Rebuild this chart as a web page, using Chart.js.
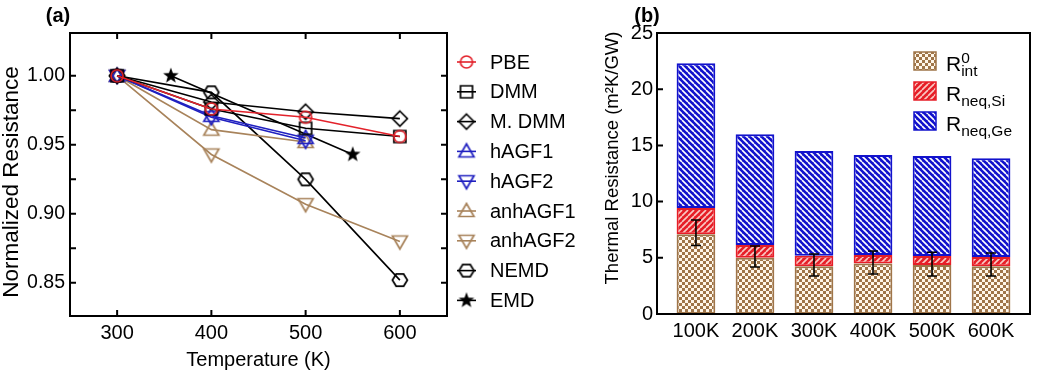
<!DOCTYPE html>
<html>
<head>
<meta charset="utf-8">
<script src="https://cdn.jsdelivr.net/npm/chart.js@4.4.1/dist/chart.umd.min.js"></script>
<style>
  body { margin: 0; background: #fff; }
  #wrap { position: relative; width: 1039px; height: 373px; }
  #chartA { position: absolute; left: 0; top: 0; }
  #chartB { position: absolute; left: 580px; top: 0; }
</style>
</head>
<body>
<div id="wrap">
  <canvas id="chartA" width="580" height="373"></canvas>
  <canvas id="chartB" width="459" height="373"></canvas>
</div>
<script>
// panel (a) data
const temps = [300, 400, 500, 600]
const pbe = [1.000, 0.976, 0.970, 0.956]
const dmm = [1.000, 0.976, 0.962, 0.956]
const mDmm = [1.000, 0.981, 0.974, 0.969]
const hAgf1 = [1.000, 0.971, 0.955, null]
const hAgf2 = [1.000, 0.970, 0.953, null]
const anhAgf1 = [1.000, 0.961, 0.952, null]
const anhAgf2 = [1.000, 0.943, 0.907, 0.880]
const nemd = [1.000, 0.988, 0.925, 0.852]
const emdTemps = [357, 550]
const emd = [1.000, 0.943]
const xTicksA = [300, 400, 500, 600]
const yTicksA = [0.85, 0.90, 0.95, 1.00]
const yMinorA = [0.875, 0.925, 0.975]

// panel (b) data
const tempLabels = ['100K', '200K', '300K', '400K', '500K', '600K']
const rInt = [7.10, 5.00, 4.25, 4.50, 4.35, 4.25]
const rNeqSi = [2.33, 1.14, 0.94, 0.75, 0.81, 0.82]
const rNeqGe = [12.87, 9.86, 9.31, 8.90, 8.89, 8.78]
const errLow = [6.10, 4.18, 3.38, 3.56, 3.38, 3.38]
const errHigh = [8.36, 6.05, 5.34, 5.60, 5.50, 5.43]
const yTicksB = [0, 5, 10, 15, 20, 25]

const FONT = 'Liberation Sans, Arial, sans-serif'
Chart.defaults.font.family = FONT
Chart.defaults.color = '#000'

const RED = '#e3222b'
const BLUE = '#2020c0'
const BROWN = '#a8835b'

function marker(shape, color) {
  const c = document.createElement('canvas')
  c.width = 20
  c.height = 20
  const g = c.getContext('2d')
  g.translate(10, 10)
  g.strokeStyle = color
  g.fillStyle = color
  g.lineWidth = 1.7
  g.beginPath()
  if (shape === 'circle') g.arc(0, 0, 6, 0, Math.PI * 2)
  else if (shape === 'square') g.rect(-6, -6, 12, 12)
  else if (shape === 'diamond') { g.moveTo(0, -7.5); g.lineTo(7.5, 0); g.lineTo(0, 7.5); g.lineTo(-7.5, 0); g.closePath() }
  else if (shape === 'up') { g.moveTo(0, -7.5); g.lineTo(7.5, 5.5); g.lineTo(-7.5, 5.5); g.closePath() }
  else if (shape === 'down') { g.moveTo(0, 7.5); g.lineTo(7.5, -5.5); g.lineTo(-7.5, -5.5); g.closePath() }
  else if (shape === 'hexagon') {
    for (let i = 0; i < 6; i++) {
      const a = i * Math.PI / 3
      g.lineTo(7.5 * Math.cos(a), 7 * Math.sin(a))
    }
    g.closePath()
  } else if (shape === 'star') {
    for (let i = 0; i < 10; i++) {
      const r = i % 2 ? 3.4 : 8.2
      const a = -Math.PI / 2 + i * Math.PI / 5
      g.lineTo(r * Math.cos(a), r * Math.sin(a))
    }
    g.closePath()
    g.fill()
    return c
  }
  g.stroke()
  return c
}

function series(label, xs, ys, color, shape) {
  return {
    label: label,
    data: xs.map((t, i) => ({ x: t, y: ys[i] })),
    borderColor: color,
    backgroundColor: color,
    borderWidth: 1.6,
    pointStyle: marker(shape, color),
    pointRadius: 7,
    fill: false,
    tension: 0
  }
}

const panelA = {
  id: 'panelA',
  afterDraw(chart) {
    const { ctx, chartArea: a, scales: { x, y } } = chart
    ctx.save()
    ctx.strokeStyle = '#000'
    ctx.lineWidth = 2
    ctx.strokeRect(a.left, a.top, a.right - a.left, a.bottom - a.top)
    ctx.beginPath()
    xTicksA.forEach(v => {
      const px = x.getPixelForValue(v)
      ctx.moveTo(px, a.bottom); ctx.lineTo(px, a.bottom - 6)
      ctx.moveTo(px, a.top); ctx.lineTo(px, a.top + 6)
    })
    yTicksA.concat(yMinorA).forEach(v => {
      const py = y.getPixelForValue(v)
      ctx.moveTo(a.left, py); ctx.lineTo(a.left + 6, py)
      ctx.moveTo(a.right, py); ctx.lineTo(a.right - 6, py)
    })
    ctx.stroke()

    // legend
    chart.data.datasets.forEach((ds, i) => {
      const cy = 62 + i * 29.8
      ctx.strokeStyle = ds.borderColor
      ctx.lineWidth = 1.6
      ctx.beginPath()
      ctx.moveTo(457, cy); ctx.lineTo(476, cy)
      ctx.stroke()
      ctx.drawImage(ds.pointStyle, 466.5 - 10, cy - 10)
      ctx.fillStyle = '#000'
      ctx.font = '20px ' + FONT
      ctx.textBaseline = 'middle'
      ctx.textAlign = 'left'
      ctx.fillText(ds.label, 490, cy + 1)
    })

    ctx.font = 'bold 20px ' + FONT
    ctx.textAlign = 'center'
    ctx.fillText('(a)', 58, 16)

    ctx.translate(12, 182)
    ctx.rotate(-Math.PI / 2)
    ctx.font = '22.5px ' + FONT
    ctx.fillText('Normalized Resistance', 0, 0)
    ctx.restore()
  }
}

new Chart(document.getElementById('chartA'), {
  type: 'line',
  data: {
    datasets: [
      series('PBE', temps, pbe, RED, 'circle'),
      series('DMM', temps, dmm, '#000', 'square'),
      series('M. DMM', temps, mDmm, '#000', 'diamond'),
      series('hAGF1', temps, hAgf1, BLUE, 'up'),
      series('hAGF2', temps, hAgf2, BLUE, 'down'),
      series('anhAGF1', temps, anhAgf1, BROWN, 'up'),
      series('anhAGF2', temps, anhAgf2, BROWN, 'down'),
      series('NEMD', temps, nemd, '#000', 'hexagon'),
      series('EMD', emdTemps, emd, '#000', 'star')
    ]
  },
  options: {
    responsive: false,
    animation: false,
    events: [],
    layout: { padding: { left: 0, right: 133, top: 33, bottom: 0 } },
    plugins: { legend: { display: false }, tooltip: { enabled: false } },
    scales: {
      x: {
        type: 'linear',
        min: 250,
        max: 650,
        grid: { display: false, drawTicks: false },
        border: { display: false },
        ticks: { font: { size: 20 }, padding: 5, callback: v => String(v) },
        afterBuildTicks: s => { s.ticks = xTicksA.map(v => ({ value: v })) },
        afterFit: s => { s.height = 57 },
        title: { display: true, text: 'Temperature (K)', font: { size: 20 }, padding: { top: 0, bottom: 1 } }
      },
      y: {
        min: 0.826,
        max: 1.031,
        grid: { display: false, drawTicks: false },
        border: { display: false },
        ticks: { font: { size: 19.5 }, padding: 5, callback: v => v.toFixed(2) },
        afterBuildTicks: s => { s.ticks = yTicksA.map(v => ({ value: v })) },
        afterFit: s => { s.width = 70 }
      }
    }
  },
  plugins: [panelA]
})

// panel (b)
const ctxB = document.getElementById('chartB').getContext('2d')

function checker(c1, c2, n) {
  const t = document.createElement('canvas')
  t.width = t.height = 2 * n
  const g = t.getContext('2d')
  g.fillStyle = c2
  g.fillRect(0, 0, 2 * n, 2 * n)
  g.fillStyle = c1
  g.fillRect(0, 0, n, n)
  g.fillRect(n, n, n, n)
  return ctxB.createPattern(t, 'repeat')
}

function stripes(bg, fg, s, w, dir) {
  const t = document.createElement('canvas')
  t.width = t.height = s
  const g = t.getContext('2d')
  g.fillStyle = bg
  g.fillRect(0, 0, s, s)
  g.strokeStyle = fg
  g.lineWidth = w
  g.beginPath()
  for (const o of [-s, 0, s]) {
    if (dir > 0) { g.moveTo(o, s); g.lineTo(o + s, 0) }
    else { g.moveTo(o, 0); g.lineTo(o + s, s) }
  }
  g.stroke()
  return ctxB.createPattern(t, 'repeat')
}

const B_BROWN = '#9f7549'
const B_RED = '#e61e27'
const B_BLUE = '#1212cc'
const patInt = checker(B_BROWN, '#fff7ea', 3)
const patSi = stripes(B_RED, '#f9c9c4', 6, 1.6, 1)
const patGe = stripes(B_BLUE, '#ffffff', 6, 1.6, -1)

const legendB = [
  { fill: patInt, border: B_BROWN, sup: '0', sub: 'int' },
  { fill: patSi, border: B_RED, sup: '', sub: 'neq,Si' },
  { fill: patGe, border: B_BLUE, sup: '', sub: 'neq,Ge' }
]

const panelB = {
  id: 'panelB',
  afterDatasetsDraw(chart) {
    const { ctx, scales: { x, y } } = chart
    ctx.save()
    ctx.strokeStyle = '#000'
    ctx.lineWidth = 1.6
    ctx.beginPath()
    errLow.forEach((lo, i) => {
      const px = x.getPixelForValue(i)
      const y1 = y.getPixelForValue(lo)
      const y2 = y.getPixelForValue(errHigh[i])
      ctx.moveTo(px, y1); ctx.lineTo(px, y2)
      ctx.moveTo(px - 5, y1); ctx.lineTo(px + 5, y1)
      ctx.moveTo(px - 5, y2); ctx.lineTo(px + 5, y2)
    })
    ctx.stroke()
    ctx.restore()
  },
  afterDraw(chart) {
    const { ctx, chartArea: a, scales: { y } } = chart
    ctx.save()
    ctx.strokeStyle = '#000'
    ctx.lineWidth = 2
    ctx.strokeRect(a.left, a.top, a.right - a.left, a.bottom - a.top)
    ctx.beginPath()
    yTicksB.forEach(v => {
      const py = y.getPixelForValue(v)
      ctx.moveTo(a.left, py); ctx.lineTo(a.left + 6, py)
    })
    ctx.stroke()

    legendB.forEach((item, i) => {
      const cy = 61 + i * 30
      ctx.fillStyle = item.fill
      ctx.fillRect(334, cy - 9, 22, 18)
      ctx.strokeStyle = item.border
      ctx.lineWidth = 1.5
      ctx.strokeRect(334, cy - 9, 22, 18)
      ctx.fillStyle = '#000'
      ctx.textAlign = 'left'
      ctx.textBaseline = 'alphabetic'
      ctx.font = '21px ' + FONT
      ctx.fillText('R', 366, cy + 9.5)
      const rw = ctx.measureText('R').width
      ctx.font = '15.5px ' + FONT
      if (item.sup) ctx.fillText(item.sup, 366 + rw, cy + 2)
      ctx.fillText(item.sub, 366 + rw, cy + 15)
    })

    ctx.font = 'bold 20px ' + FONT
    ctx.textAlign = 'center'
    ctx.textBaseline = 'middle'
    ctx.fillText('(b)', 67, 16)

    ctx.translate(33, 158)
    ctx.rotate(-Math.PI / 2)
    ctx.font = '18.5px ' + FONT
    ctx.fillText('Thermal Resistance (m\u00B2K/GW)', 0, 0)
    ctx.restore()
  }
}

function bars(label, values, fill, border) {
  return {
    label: label,
    data: values.map((v, i) => ({ x: i, y: v })),
    backgroundColor: fill,
    borderColor: border,
    borderWidth: 2,
    borderSkipped: false,
    barPercentage: 0.82,
    categoryPercentage: 0.8
  }
}

new Chart(ctxB, {
  type: 'bar',
  data: {
    datasets: [
      bars('R0 int', rInt, patInt, B_BROWN),
      bars('R neq,Si', rNeqSi, patSi, B_RED),
      bars('R neq,Ge', rNeqGe, patGe, B_BLUE)
    ]
  },
  options: {
    responsive: false,
    animation: false,
    events: [],
    layout: { padding: { left: 0, right: 9, top: 33, bottom: 0 } },
    plugins: { legend: { display: false }, tooltip: { enabled: false } },
    scales: {
      x: {
        type: 'linear',
        min: -0.66,
        max: 5.66,
        offset: false,
        stacked: true,
        grid: { display: false, drawTicks: false },
        border: { display: false },
        ticks: { font: { size: 20 }, padding: 5, callback: v => tempLabels[v] ?? '' },
        afterBuildTicks: s => { s.ticks = tempLabels.map((_, i) => ({ value: i })) },
        afterFit: s => { s.height = 59 }
      },
      y: {
        min: 0,
        max: 25,
        stacked: true,
        grid: { display: false, drawTicks: false },
        border: { display: false },
        ticks: { font: { size: 20 }, padding: 4 },
        afterBuildTicks: s => { s.ticks = yTicksB.map(v => ({ value: v })) },
        afterFit: s => { s.width = 77 }
      }
    }
  },
  plugins: [panelB]
})
</script>
</body>
</html>
